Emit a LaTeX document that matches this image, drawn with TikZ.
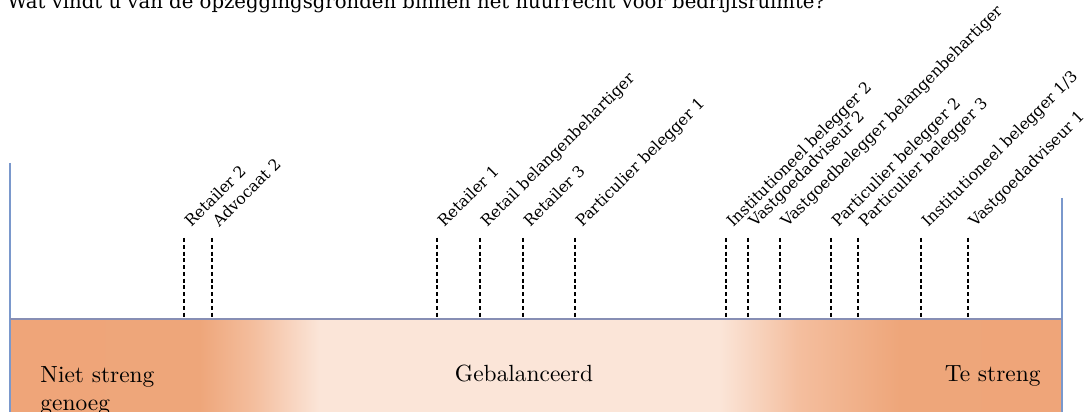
\documentclass[tikz,border=0pt]{standalone}
\usepackage{fontspec}
\newfontfamily\labelfont{DejaVu Serif}
\definecolor{barorange}{RGB}{239,165,121}
\definecolor{barmid}{RGB}{244,190,158}
\definecolor{bardark}{RGB}{238,166,122}
\definecolor{barlight}{RGB}{251,229,216}
\definecolor{axisblue}{RGB}{122,152,204}
\definecolor{baseblue}{RGB}{135,142,180}
\pgfdeclarehorizontalshading{barshade}{100bp}{%
  color(0bp)=(barorange);
  color(25bp)=(barorange);
  color(34bp)=(bardark);
  color(36.6bp)=(barmid);
  color(39.7bp)=(barlight);
  color(58.7bp)=(barlight);
  color(62.5bp)=(barmid);
  color(67.3bp)=(bardark);
  color(75bp)=(barorange);
  color(100bp)=(barorange)}
\tikzset{
  lbl/.style={anchor=base west, rotate=45, inner sep=0pt, font=\labelfont\fontsize{6.7}{8}\selectfont},
  dashline/.style={draw=black, line width=0.55pt, dash pattern=on 1.7pt off 1.2pt},
  axisline/.style={draw=axisblue, line width=0.45pt},
  bartext/.style={inner sep=0pt, font=\fontsize{10}{12}\selectfont}
}
\newcommand{\stakeholder}[3]{%
  \coordinate (#1top) at (#2,174);
  \coordinate (#1bot) at (#2,93);
  \draw[dashline] (#1top) -- (#1bot);
  \node[lbl] (#1lbl) at (#2+7,184) {#3};}
\begin{document}
\begin{tikzpicture}[x=0.4274pt, y=0.4274pt]
\useasboundingbox (0,0) rectangle (1087,412);
% title (cut at top)
\node[anchor=base west, inner sep=0pt, font=\labelfont\fontsize{8.4}{10}\selectfont] (title) at (7,403)
  {Wat vindt u van de opzeggingsgronden binnen het huurrecht voor bedrijfsruimte?};
% bar
\path[shading=barshade] (10,0) rectangle (1062,92.5);
% axes
\coordinate (ltop) at (10,249);
\coordinate (lbot) at (10,0);
\coordinate (rtop) at (1062,214);
\coordinate (rbot) at (1062,0);
\coordinate (hl) at (10,93);
\coordinate (hr) at (1062,93);
\draw[axisline] (ltop) -- (lbot);
\draw[axisline] (rtop) -- (rbot);
\draw[draw=baseblue, line width=0.6pt] (hl) -- (hr);
% markers
\stakeholder{a}{184}{Retailer 2}
\stakeholder{b}{212}{Advocaat 2}
\stakeholder{c}{437}{Retailer 1}
\stakeholder{d}{480}{Retail belangenbehartiger}
\stakeholder{e}{523}{Retailer 3}
\stakeholder{f}{575}{Particulier belegger 1}
\stakeholder{g}{726}{Institutioneel belegger 2}
\stakeholder{h}{748}{Vastgoedadviseur 2}
\stakeholder{i}{780}{Vastgoedbelegger belangenbehartiger}
\stakeholder{j}{831}{Particulier belegger 2}
\stakeholder{k}{858}{Particulier belegger 3}
\stakeholder{l}{921}{Institutioneel belegger 1/3}
\stakeholder{m}{968}{Vastgoedadviseur 1}
% bar texts
\node[bartext, anchor=north west, align=left] (niet) at (40,46) {Niet streng\\genoeg};
\node[bartext, anchor=base] (gebal) at (524,30) {Gebalanceerd};
\node[bartext, anchor=base east] (te) at (1041,30) {Te streng};
\end{tikzpicture}
\end{document}
